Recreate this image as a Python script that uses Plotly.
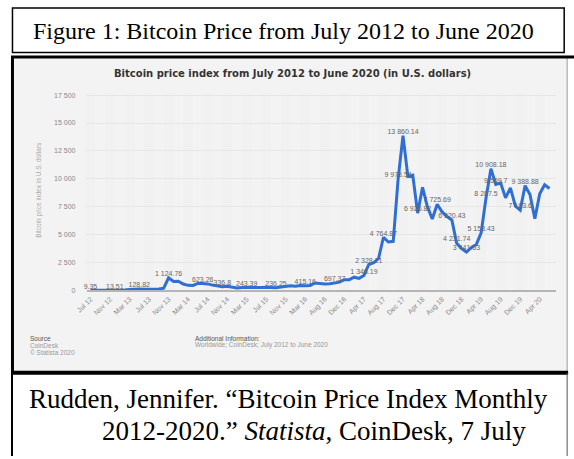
import plotly.graph_objects as go

W, H = 574, 459

months = [
    "Jul 12", "Aug 12", "Sep 12", "Oct 12", "Nov 12", "Dec 12",
    "Jan 13", "Feb 13", "Mar 13", "Apr 13", "May 13", "Jun 13", "Jul 13", "Aug 13", "Sep 13", "Oct 13", "Nov 13", "Dec 13",
    "Jan 14", "Feb 14", "Mar 14", "Apr 14", "May 14", "Jun 14", "Jul 14", "Aug 14", "Sep 14", "Oct 14", "Nov 14", "Dec 14",
    "Jan 15", "Feb 15", "Mar 15", "Apr 15", "May 15", "Jun 15", "Jul 15", "Aug 15", "Sep 15", "Oct 15", "Nov 15", "Dec 15",
    "Jan 16", "Feb 16", "Mar 16", "Apr 16", "Jun 16", "Jul 16", "Aug 16", "Sep 16", "Oct 16", "Nov 16", "Dec 16",
    "Jan 17", "Feb 17", "Mar 17", "Apr 17", "May 17", "Jun 17", "Jul 17", "Aug 17", "Sep 17", "Oct 17", "Nov 17", "Dec 17",
    "Jan 18", "Feb 18", "Mar 18", "Apr 18", "May 18", "Jun 18", "Jul 18", "Aug 18", "Sep 18", "Oct 18", "Nov 18", "Dec 18",
    "Jan 19", "Feb 19", "Mar 19", "Apr 19", "May 19", "Jun 19", "Jul 19", "Aug 19", "Sep 19", "Oct 19", "Nov 19", "Dec 19",
    "Jan 20", "Feb 20", "Mar 20", "Apr 20", "May 20", "Jun 20",
]

prices = [
    9.35, 10.2, 12.4, 11.2, 12.56, 13.51,
    20.41, 33.38, 93.03, 139.2, 128.82, 97.51, 106.21, 141.0, 133.0, 204.0, 1124.76, 805.0,
    830.0, 573.0, 458.0, 446.0, 628.0, 623.26, 586.0, 480.0, 387.0, 336.8, 378.0, 320.0,
    218.0, 254.0, 243.39, 236.0, 230.0, 263.0, 284.0, 230.0, 236.25, 314.0, 377.0, 430.0,
    369.0, 437.0, 415.16, 448.0, 673.0, 624.0, 575.0, 609.0, 697.37, 742.0, 964.0,
    970.0, 1190.0, 1080.0, 1348.19, 2328.21, 2480.0, 2875.0, 4764.87, 4338.0, 4400.0, 9973.54, 13860.14,
    10221.0, 10326.0, 6926.82, 9246.0, 7494.0, 6404.0, 7725.69, 7037.0, 6626.0, 6320.43, 4231.74, 3742.0,
    3441.63, 3854.0, 4105.0, 5153.43, 8287.5, 10908.18, 9509.7, 9630.0, 8293.0, 9199.0, 7569.0, 7193.6,
    9388.88, 8599.0, 6424.0, 8658.0, 9462.0, 9137.0,
]

labelled_months = [
    "Jul 12", "Dec 12", "May 13", "Nov 13", "Jun 14", "Oct 14", "Mar 15", "Sep 15",
    "Mar 16", "Oct 16", "Apr 17", "May 17", "Aug 17", "Nov 17", "Dec 17", "Mar 18",
    "Jul 18", "Oct 18", "Nov 18", "Jan 19", "Apr 19", "May 19", "Jun 19", "Jul 19",
    "Dec 19", "Jan 20",
]

y_ticks = [0, 2500, 5000, 7500, 10000, 12500, 15000, 17500]
x_ticks = months[0::4]

price_of = dict(zip(months, prices))
lab_x = labelled_months
lab_y = [price_of[m] for m in labelled_months]
lab_t = ["{:,}".format(v).replace(",", " ") for v in lab_y]


def px(x):
    return x / W


def py(y):
    return 1 - y / H


fig = go.Figure()
fig.add_trace(go.Scatter(
    x=months, y=prices, mode="lines",
    line=dict(color="#2f6fd3", width=3), hoverinfo="skip", showlegend=False,
))
fig.add_trace(go.Scatter(
    x=lab_x, y=lab_y, mode="text", text=lab_t, textposition="top center",
    textfont=dict(family="Liberation Sans, Arial", size=7, color="#666666"),
    hoverinfo="skip", showlegend=False, cliponaxis=False,
))

shapes = [
    dict(type="rect", xref="paper", yref="paper", x0=px(0), x1=px(567), y0=py(374), y1=py(58),
         fillcolor="#f3f3f3", line=dict(width=0), layer="below"),
    dict(type="line", xref="paper", yref="paper", x0=px(1.5), x1=px(1.5), y0=py(374), y1=py(56),
         line=dict(color="black", width=3)),
    dict(type="line", xref="paper", yref="paper", x0=px(567), x1=px(567), y0=py(374), y1=py(56),
         line=dict(color="#999999", width=1)),
    dict(type="rect", xref="paper", yref="paper", x0=px(1.5), x1=px(564), y0=py(52), y1=py(7),
         fillcolor="white", line=dict(color="black", width=1.5)),
    dict(type="line", xref="paper", yref="paper", x0=px(0), x1=px(574), y0=py(56.5), y1=py(56.5),
         line=dict(color="black", width=3)),
    dict(type="line", xref="paper", yref="paper", x0=px(0), x1=px(568), y0=py(375), y1=py(375),
         line=dict(color="black", width=4)),
    dict(type="line", xref="paper", yref="paper", x0=px(1), x1=px(1), y0=py(459), y1=py(375),
         line=dict(color="black", width=2)),
    dict(type="line", xref="paper", yref="paper", x0=px(567), x1=px(567), y0=py(459), y1=py(375),
         line=dict(color="#555555", width=1)),
]

serif = "Liberation Serif, Times New Roman, serif"
sans = "Liberation Sans, Arial, sans-serif"
wide = "DejaVu Sans, Verdana, sans-serif"


def note(text, x, y, size, color, family, xanchor="left", angle=0):
    return dict(text=text, x=px(x), y=py(y), xref="paper", yref="paper",
                xanchor=xanchor, yanchor="middle", showarrow=False, textangle=angle,
                font=dict(family=family, size=size, color=color))


ann = [
    note("Figure 1: Bitcoin Price from July 2012 to June 2020", 20, 30, 24, "black", serif),
    note("<b>Bitcoin price index from July 2012 to June 2020 (in U.S. dollars)</b>", 287, 73, 10,
         "#333333", wide, "center"),
    note("Bitcoin price index in U.S. dollars", 29, 190, 6.5, "#aaaaaa", sans, "center", -90),
    note("Source", 17, 340, 6.5, "#555555", sans),
    note("CoinDesk", 17, 347.5, 6.5, "#999999", sans),
    note("© Statista 2020", 17, 355, 6.5, "#999999", sans),
    note("Additional Information:", 186, 340, 6.5, "#555555", sans),
    note("Worldwide; CoinDesk; July 2012 to June 2020", 186, 347.5, 6.5, "#999999", sans),
    note("Rudden, Jennifer. “Bitcoin Price Index Monthly", 16, 401, 27, "black", serif),
    note("2012-2020.” <i>Statista</i>, CoinDesk, 7 July", 91, 434, 27, "black", serif),
]

fig.update_layout(
    width=W, height=H,
    margin=dict(l=0, r=0, t=0, b=0),
    paper_bgcolor="white",
    plot_bgcolor="#fbfbfb",
    separators=". ",
    shapes=shapes,
    annotations=ann,
    xaxis=dict(
        domain=[px(77), px(556)],
        type="category",
        categoryorder="array", categoryarray=months,
        range=[-0.8, 95.4],
        tickmode="array", tickvals=x_ticks, ticktext=x_ticks,
        tickangle=-45,
        tickfont=dict(family=sans, size=7, color="#888888"),
        showgrid=True, gridcolor="#f1f1f1", gridwidth=10,
        showline=True, linecolor="#b5b5b5", linewidth=2,
        ticks="", zeroline=False,
    ),
    yaxis=dict(
        domain=[py(292), py(92.7)],
        range=[0, 17700],
        tickmode="array", tickvals=y_ticks, tickformat=",",
        tickfont=dict(family=sans, size=7, color="#888888"),
        showgrid=True, gridcolor="#e6e6e6", gridwidth=1,
        zeroline=False, ticks="", ticklabelstandoff=10,
    ),
)

fig.write_html(
    "out.html",
    config={"displayModeBar": False},
    post_script="document.body.style.margin='0';document.body.style.overflow='hidden';",
)
